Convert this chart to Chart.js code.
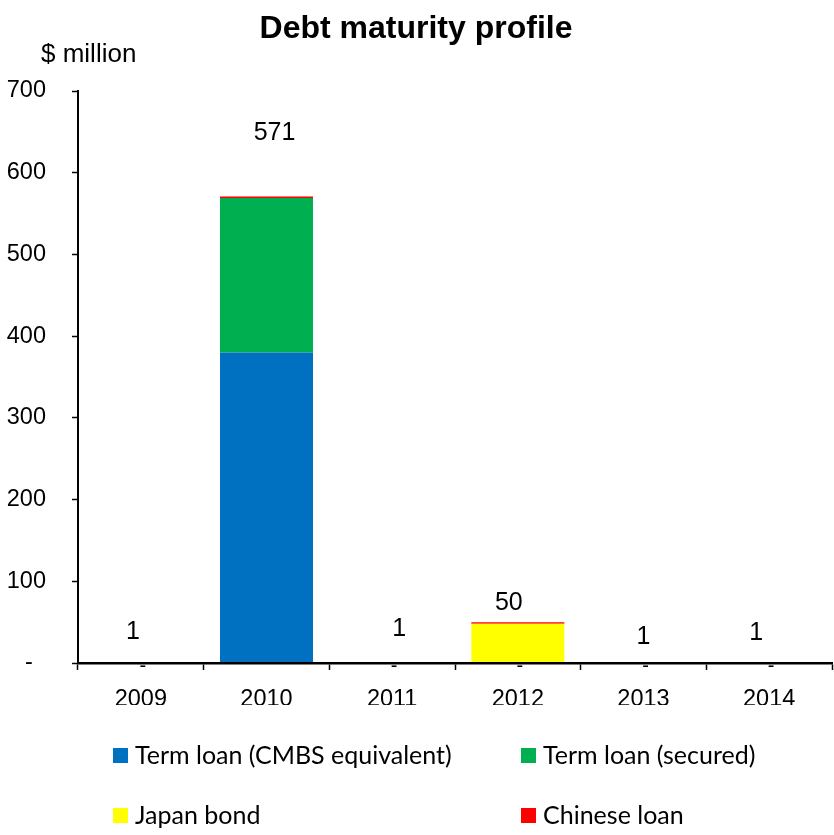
<!DOCTYPE html>
<html>
<head>
<meta charset="utf-8">
<script src="https://cdn.jsdelivr.net/npm/chart.js@4/dist/chart.umd.min.js"></script>
<style>
  html, body { margin: 0; padding: 0; background: #fff; }
  #wrap { width: 834px; height: 835px; position: relative; }
</style>
</head>
<body>
<div id="wrap"><canvas id="debt-chart" width="834" height="835"></canvas></div>
<script>
// Maturity years
var years = ['2009', '2010', '2011', '2012', '2013', '2014'];

// Amounts due per year, $ million
var cmbsLoan    = [0, 380, 0, 0, 0, 0];
var securedLoan = [0, 189, 0, 0, 0, 0];
var japanBond   = [0, 0, 0, 48, 0, 0];
var chineseLoan = [1, 2, 1, 2, 1, 1];

// Y axis ticks
var yTicks = [0, 100, 200, 300, 400, 500, 600, 700];

// Hand placement of the total labels: [dx, lift above the stack] in px
var totalNudge = [[-8, 30], [8, 63], [7, 33], [-9, 19], [0, 25], [-13, 29]];

var AXIS_FONT = '"Liberation Sans", Arial, sans-serif';
var LEGEND_FONT = 'Lato, "Open Sans", sans-serif';

var series = [
  { label: 'Term loan (CMBS equivalent)', data: cmbsLoan, color: '#0070C0' },
  { label: 'Term loan (secured)', data: securedLoan, color: '#00B050' },
  { label: 'Japan bond', data: japanBond, color: '#FFFF00' },
  { label: 'Chinese loan', data: chineseLoan, color: '#FF0000' }
];

// Totals above bars, dashes for empty years, unit label and legend
var decorations = {
  id: 'decorations',
  afterDraw: function (chart) {
    var ctx = chart.ctx;
    var xs = chart.scales.x, ys = chart.scales.y;
    ctx.save();
    ctx.fillStyle = '#000';
    ctx.textAlign = 'center';
    ctx.textBaseline = 'middle';
    years.forEach(function (yr, i) {
      var total = 0;
      chart.data.datasets.forEach(function (ds) { total += ds.data[i]; });
      var x = xs.getPixelForValue(i);
      ctx.font = '25px ' + AXIS_FONT;
      ctx.fillText(String(total), x + totalNudge[i][0], ys.getPixelForValue(total) - totalNudge[i][1]);
      if (cmbsLoan[i] === 0) {
        ctx.font = '20px ' + AXIS_FONT;
        ctx.fillText('-', x + 2, ys.getPixelForValue(0) + 3);
      }
    });

    ctx.textAlign = 'left';
    ctx.font = '26px ' + AXIS_FONT;
    ctx.fillText('$ million', 41, 55);

    // two-column legend
    var cols = [113, 521], rows = [755.5, 815.5];
    chart.data.datasets.forEach(function (ds, k) {
      var bx = cols[k % 2], by = rows[Math.floor(k / 2)];
      ctx.fillStyle = ds.backgroundColor;
      ctx.fillRect(bx, by - 7.5, 15, 15);
      ctx.fillStyle = '#000';
      ctx.font = '25px ' + LEGEND_FONT;
      ctx.fillText(ds.label, bx + 22, by);
    });
    ctx.restore();
  }
};

var ctx = document.getElementById('debt-chart').getContext('2d');

var chart = new Chart(ctx, {
  type: 'bar',
  data: {
    labels: years,
    datasets: series.map(function (s) {
      return {
        label: s.label,
        data: s.data,
        backgroundColor: s.color,
        borderWidth: 0,
        categoryPercentage: 1,
        barPercentage: 0.74
      };
    })
  },
  options: {
    responsive: false,
    animation: false,
    layout: { padding: { top: 0, left: 0, right: 2, bottom: 130 } },
    plugins: {
      legend: { display: false },
      tooltip: { enabled: false },
      title: {
        display: true,
        text: 'Debt maturity profile',
        color: '#000',
        font: { family: AXIS_FONT, size: 32, weight: 'bold', lineHeight: 1.2 },
        padding: { top: 10, bottom: 42.6 }
      }
    },
    scales: {
      x: {
        stacked: true,
        grid: {
          display: true,
          offset: true,
          drawOnChartArea: false,
          drawTicks: true,
          tickLength: 7,
          tickWidth: 1.5,
          tickColor: '#000'
        },
        // axis line sits on top of the bars
        border: { color: '#000', width: 2.5, z: 1 },
        ticks: {
          color: '#000',
          font: { family: AXIS_FONT, size: 23.5 },
          padding: 15,
          maxRotation: 0
        },
        afterFit: function (scale) { scale.height = 42; }
      },
      y: {
        stacked: true,
        min: 0,
        max: 700,
        afterBuildTicks: function (scale) {
          scale.ticks = yTicks.map(function (v) { return { value: v }; });
        },
        grid: {
          display: true,
          drawOnChartArea: false,
          drawTicks: true,
          tickLength: 6,
          tickWidth: 1.5,
          tickColor: '#000'
        },
        border: { color: '#000', width: 2, z: 1 },
        ticks: {
          color: '#000',
          font: { family: AXIS_FONT, size: 23.5 },
          padding: 26,
          callback: function (v) { return v === 0 ? '-  ' : String(v); }
        },
        afterFit: function (scale) { scale.width = 78; }
      }
    }
  },
  plugins: [decorations]
});
</script>
</body>
</html>
